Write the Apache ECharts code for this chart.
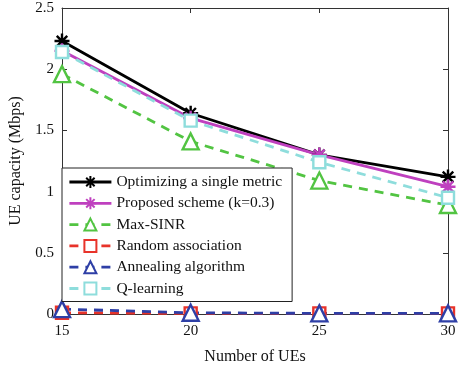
<!DOCTYPE html>
<html>
<head>
<meta charset="utf-8">
<script src="https://cdn.jsdelivr.net/npm/echarts@6/dist/echarts.min.js"></script>
<style>
  html, body { margin: 0; padding: 0; background: #fff; }
  #chart { width: 460px; height: 370px; }
</style>
</head>
<body>
<div id="chart"></div>
<script>
// Number of UEs on the x axis
const ueCounts = [15, 20, 25, 30];

// Average UE capacity (Mbps) for each scheme
const singleMetric = [2.23, 1.64, 1.30, 1.12];
const proposed     = [2.15, 1.60, 1.30, 1.04];
const maxSinr      = [1.96, 1.41, 1.09, 0.89];
const randomAssoc  = [0.01, 0.005, 0.005, 0.005];
const annealing    = [0.04, 0.01, 0.005, 0.005];
const qLearning    = [2.14, 1.58, 1.24, 0.95];

const seriesNames = [
  'Optimizing a single metric',
  'Proposed scheme (k=0.3)',
  'Max-SINR',
  'Random association',
  'Annealing algorithm',
  'Q-learning'
];

const FONT = '"Liberation Serif", "Times New Roman", serif';
const asterisk = 'path://M0,-10L0,10M-10,0L10,0M-7,-7L7,7M-7,7L7,-7';

const pairs = vals => ueCounts.map((x, i) => [x, vals[i]]);

function makeSeries(name, vals, color, dashed, symbol, size, hollow) {
  return {
    name: name,
    type: 'line',
    data: pairs(vals),
    symbol: symbol,
    symbolSize: size,
    showAllSymbol: true,
    lineStyle: { color: color, width: 2.8, type: dashed ? [9, 7] : 'solid' },
    itemStyle: {
      color: hollow ? '#fff' : color,
      borderColor: color,
      borderWidth: 2.4,
      opacity: 1
    },
    emphasis: { disabled: true },
    animation: false
  };
}

const chart = echarts.init(document.getElementById('chart'), null, { renderer: 'canvas' });

const axisCommon = {
  axisLine: { show: true, onZero: false, lineStyle: { color: '#333', width: 1 } },
  axisTick: { show: true, inside: true, length: 5, lineStyle: { color: '#333' } },
  splitLine: { show: false }
};

chart.setOption({
  backgroundColor: '#fff',
  grid: { left: 60, right: 12, top: 8, bottom: 54, containLabel: false },
  xAxis: [
    Object.assign({
      type: 'value', min: 15, max: 30, interval: 5, position: 'bottom',
      name: 'Number of UEs', nameLocation: 'middle', nameGap: 35,
      nameTextStyle: { fontFamily: FONT, fontSize: 16, color: '#111' },
      axisLabel: { fontFamily: FONT, fontSize: 15, color: '#111', margin: 10 }
    }, axisCommon),
    Object.assign({
      type: 'value', min: 15, max: 30, interval: 5, position: 'top',
      axisLabel: { show: false }
    }, axisCommon)
  ],
  yAxis: [
    Object.assign({
      type: 'value', min: 0, max: 2.5, interval: 0.5, position: 'left',
      name: 'UE capacity (Mbps)', nameLocation: 'middle', nameGap: 38,
      nameTextStyle: { fontFamily: FONT, fontSize: 16, color: '#111' },
      axisLabel: { fontFamily: FONT, fontSize: 15, color: '#111', margin: 8 }
    }, axisCommon),
    Object.assign({
      type: 'value', min: 0, max: 2.5, interval: 0.5, position: 'right',
      axisLabel: { show: false }
    }, axisCommon)
  ],
  legend: {
    orient: 'vertical',
    left: 62,
    top: 168,
    padding: [6, 10, 5, 6],
    itemWidth: 42,
    itemHeight: 15,
    itemGap: 5.3,
    backgroundColor: '#fff',
    borderColor: '#222',
    borderWidth: 1,
    borderRadius: 0,
    lineStyle: { width: 2.8 },
    textStyle: { fontFamily: FONT, fontSize: 15.5, color: '#111' },
    selectedMode: false,
    data: seriesNames
  },
  series: [
    makeSeries(seriesNames[0], singleMetric, '#000000', false, asterisk, 15, false),
    makeSeries(seriesNames[1], proposed, '#BF40BF', false, asterisk, 15, false),
    makeSeries(seriesNames[2], maxSinr, '#52C442', true, 'triangle', 16, true),
    makeSeries(seriesNames[3], randomAssoc, '#E8332A', true, 'rect', 12, true),
    makeSeries(seriesNames[4], annealing, '#2E3FA6', true, 'triangle', 16, true),
    makeSeries(seriesNames[5], qLearning, '#8EDDDC', true, 'rect', 12, true)
  ]
});
</script>
</body>
</html>
